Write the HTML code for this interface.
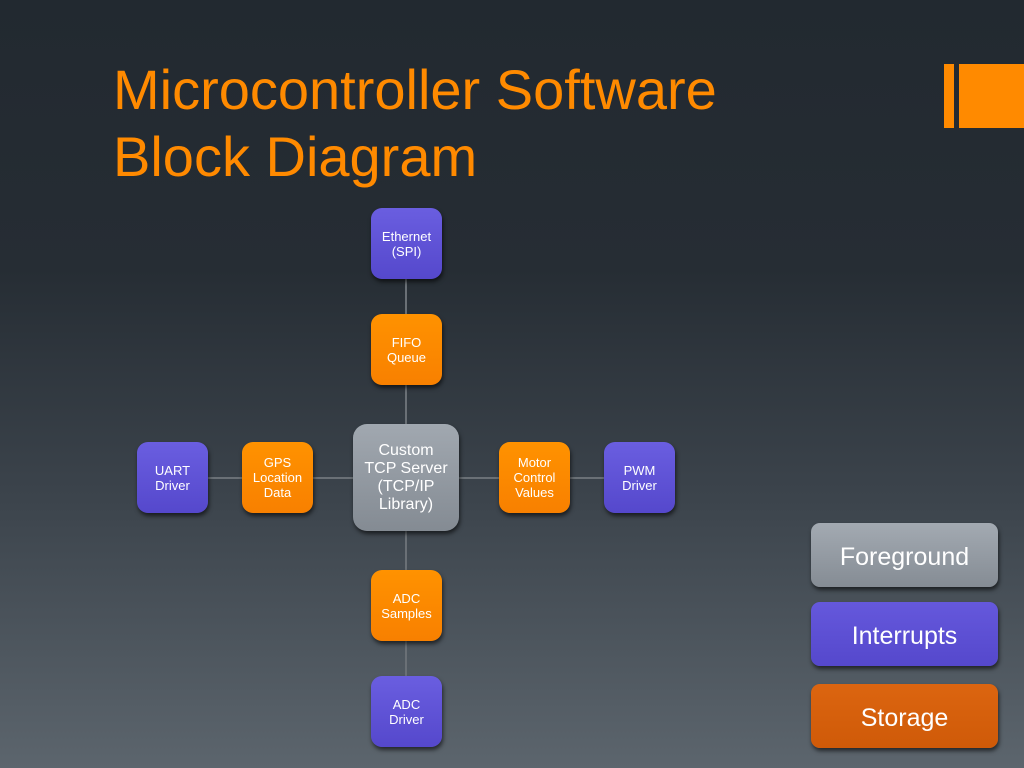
<!DOCTYPE html><html><head><style>
body{margin:0;width:1024px;height:768px;overflow:hidden;background:linear-gradient(#222930 0%,#262d34 35%,#3c444c 65%,#5c656d 100%);font-family:"Liberation Sans",sans-serif;position:relative}
.t{position:absolute;left:113px;color:#ff8a00;font-size:56px;line-height:67px;top:56px}
.b{position:absolute;width:71px;height:71px;border-radius:11px;color:#fff;font-size:13px;line-height:15px;display:flex;align-items:center;justify-content:center;text-align:center;box-shadow:1px 3px 4px rgba(0,0,0,.6)}
.p{background:linear-gradient(#6a5ee0,#5548cc)}
.o{background:linear-gradient(#ff9200,#f88000)}
.g{background:linear-gradient(#a1a8b0,#848b93);font-size:16px;line-height:18px;border-radius:14px}
.l{position:absolute;background:#6a7076}
.k{position:absolute;left:811px;width:187px;height:64px;border-radius:9px;color:#fff;font-size:25px;display:flex;align-items:center;justify-content:center;box-shadow:1px 3px 4px rgba(0,0,0,.6);padding-top:4px;box-sizing:border-box}
</style></head><body>
<div class="t">Microcontroller Software<br>Block Diagram</div>
<div style="position:absolute;left:944px;top:64px;width:10px;height:64px;background:#ff8a00"></div>
<div style="position:absolute;left:959px;top:64px;width:65px;height:64px;background:#ff8a00"></div>
<div class="l" style="left:405px;top:278px;width:2px;height:400px"></div>
<div class="l" style="left:208px;top:477px;width:396px;height:2px"></div>
<div class="b p" style="left:371px;top:208px">Ethernet<br>(SPI)</div>
<div class="b o" style="left:371px;top:314px">FIFO<br>Queue</div>
<div class="b g" style="left:353px;top:424px;width:106px;height:107px">Custom<br>TCP Server<br>(TCP/IP<br>Library)</div>
<div class="b o" style="left:371px;top:570px">ADC<br>Samples</div>
<div class="b p" style="left:371px;top:676px">ADC<br>Driver</div>
<div class="b p" style="left:137px;top:442px">UART<br>Driver</div>
<div class="b o" style="left:242px;top:442px">GPS<br>Location<br>Data</div>
<div class="b o" style="left:499px;top:442px">Motor<br>Control<br>Values</div>
<div class="b p" style="left:604px;top:442px">PWM<br>Driver</div>
<div class="k" style="top:523px;background:linear-gradient(#a3aab2,#858c94)">Foreground</div>
<div class="k" style="top:602px;background:linear-gradient(#6558dc,#5548cc)">Interrupts</div>
<div class="k" style="top:684px;background:linear-gradient(#dc6510,#cf5a08)">Storage</div>
</body></html>
